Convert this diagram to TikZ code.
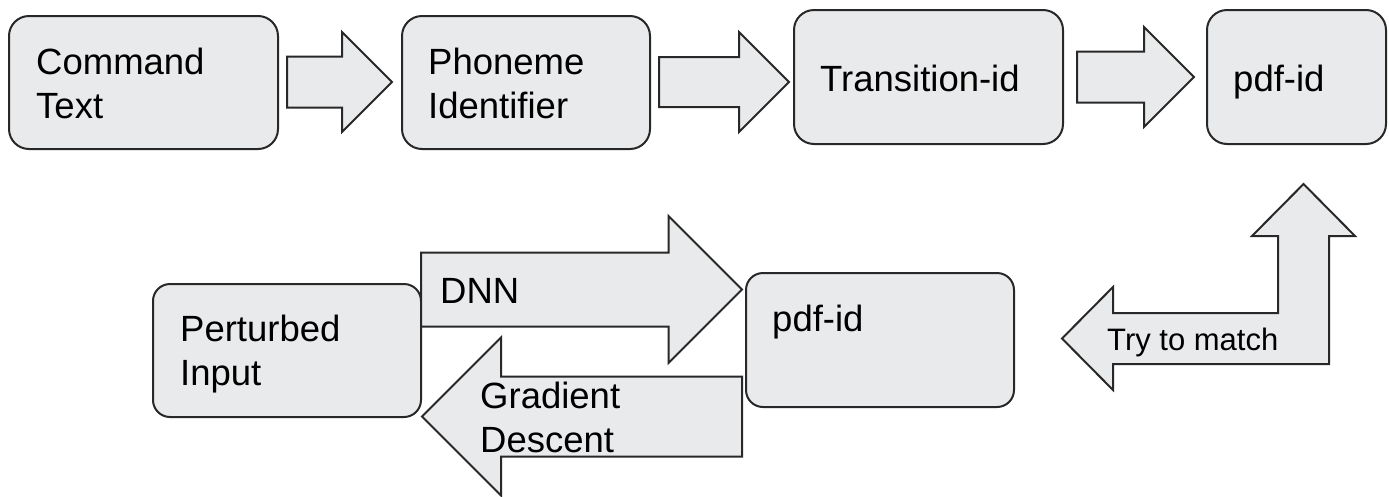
\documentclass[tikz,border=0pt]{standalone}
\usepackage{fontspec}
\setmainfont{Liberation Sans}
\definecolor{boxfill}{RGB}{232,234,235}
\definecolor{edge}{RGB}{40,40,40}
\tikzset{
  boxst/.style={draw=edge, line width=2pt, fill=boxfill, rounded corners=20pt, inner sep=0pt},
  blk/.style={draw=edge, line width=2pt, fill=boxfill, line join=miter},
  txt/.style={inner sep=0pt, align=left, font=\fontsize{36.5}{43.5}\selectfont, text=black},
  smalltxt/.style={inner sep=0pt, font=\fontsize{31}{37}\selectfont, text=black}
}
% right-pointing block arrow: tail x, tip x, centre y, shaft half, head half
\newcommand\BlkRight[5]{%
  \draw[blk] (#1,#3-#4) -- (#2-#5,#3-#4) -- (#2-#5,#3-#5) -- (#2,#3) --
    (#2-#5,#3+#5) -- (#2-#5,#3+#4) -- (#1,#3+#4) -- cycle;}
\newcommand\BlkLeft[5]{%
  \draw[blk] (#1,#3-#4) -- (#2+#5,#3-#4) -- (#2+#5,#3-#5) -- (#2,#3) --
    (#2+#5,#3+#5) -- (#2+#5,#3+#4) -- (#1,#3+#4) -- cycle;}
\begin{document}
\begin{tikzpicture}[x=1pt,y=-1pt]
\useasboundingbox (0,0) rectangle (1389,496);
% top row boxes
\node[boxst, minimum width=269pt, minimum height=133pt] (cmd) at (143.5,82.5) {};
\node[boxst, minimum width=248pt, minimum height=133pt] (phon) at (526,82.5) {};
\node[boxst, minimum width=269pt, minimum height=134pt] (trans) at (928.5,77) {};
\node[boxst, minimum width=179pt, minimum height=134pt] (pdfa) at (1296.5,77) {};
% top row arrows
\BlkRight{287}{392}{82}{25.5}{50}
\BlkRight{659}{789}{82}{25}{50}
\BlkRight{1077}{1194}{77}{25.5}{50}
% bottom boxes
\node[boxst, rounded corners=17pt, minimum width=268pt, minimum height=133pt] (pert) at (287,350.5) {};
\node[boxst, rounded corners=17pt, minimum width=268pt, minimum height=134pt] (pdfb) at (880,340) {};
% DNN and gradient arrows
\BlkRight{421}{742}{289.5}{37}{73.5}
\BlkLeft{742}{422}{416.5}{40}{79}
% bent arrow
\coordinate (upTip) at (1303.5,184);
\coordinate (leftTip) at (1062,338.5);
\draw[blk] (upTip) -- (1355,236) -- (1329,236) -- (1329,364) -- (1113,364) -- (1113,390)
  -- (leftTip) -- (1113,287) -- (1113,313) -- (1278,313) -- (1278,236) -- (1252,236) -- cycle;
% texts (base anchor of a multi-line node = baseline of its last line)
\node[txt, anchor=base west] (cmdt) at (36,118) {Command\\Text};
\node[txt, anchor=base west] (phont) at (428,118) {Phoneme\\Identifier};
\node[txt, anchor=base west] (transt) at (820,91) {Transition-id};
\node[txt, anchor=base west] (pdfat) at (1233,91) {pdf-id};
\node[txt, anchor=base west] (pertt) at (180,385) {Perturbed\\Input};
\node[txt, anchor=base west] (pdfbt) at (772,331) {pdf-id};
\node[txt, anchor=base west] (dnnt) at (440,303) {DNN};
\node[txt, anchor=base west] (gradt) at (480,452) {Gradient\\Descent};
\node[smalltxt, anchor=base west] (matcht) at (1107,350) {Try to match};
\end{tikzpicture}
\end{document}
